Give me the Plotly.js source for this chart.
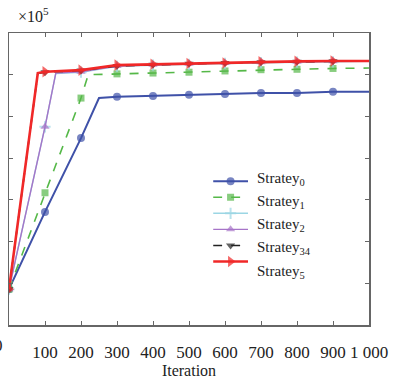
<!DOCTYPE html>
<html>
<head>
<meta charset="utf-8">
<script src="https://cdn.plot.ly/plotly-3.0.1.min.js"></script>
<style>html,body{margin:0;padding:0;background:#fff;}#chart{width:413px;height:382px;}</style>
</head>
<body>
<div id="chart"></div>
<script>
// Values in units of 10^5
const seriesNames = ["Stratey<sub>0</sub>", "Stratey<sub>1</sub>", "Stratey<sub>2</sub>", "Stratey<sub>2</sub>", "Stratey<sub>34</sub>", "Stratey<sub>5</sub>"];
const legendLabels = ["Stratey<sub>0</sub>", "Stratey<sub>1</sub>", "Stratey<sub>2</sub>", "Stratey<sub>34</sub>", "Stratey<sub>5</sub>"];

const s0_x = [0, 100, 200, 250, 300, 400, 500, 600, 700, 800, 900, 1000];
const s0_y = [0.86, 2.71, 4.48, 5.44, 5.47, 5.49, 5.52, 5.54, 5.56, 5.56, 5.59, 5.59];

const s1_x = [0, 100, 200, 220, 300, 400, 500, 600, 700, 800, 900, 1000];
const s1_y = [0.86, 3.17, 5.44, 6.00, 6.02, 6.04, 6.06, 6.09, 6.12, 6.13, 6.15, 6.16];

const s2c_x = [0, 100, 130, 200, 300, 400, 500, 600, 700, 800, 900, 1000];
const s2c_y = [0.86, 4.75, 6.03, 6.06, 6.20, 6.23, 6.25, 6.27, 6.29, 6.30, 6.31, 6.32];

const s2p_x = [0, 100, 130, 200, 300, 400, 500, 600, 700, 800, 900, 1000];
const s2p_y = [0.86, 4.75, 6.04, 6.07, 6.21, 6.24, 6.26, 6.28, 6.30, 6.31, 6.32, 6.33];

const s34_x = [0, 80, 100, 200, 300, 400, 500, 600, 700, 800, 900, 1000];
const s34_y = [0.86, 6.03, 6.06, 6.10, 6.21, 6.24, 6.26, 6.28, 6.30, 6.31, 6.32, 6.33];

const s5_x = [0, 80, 100, 200, 300, 400, 500, 600, 700, 800, 900, 1000];
const s5_y = [0.86, 6.04, 6.07, 6.11, 6.23, 6.25, 6.27, 6.28, 6.31, 6.32, 6.33, 6.33];

const xTickVals = [0, 100, 200, 300, 400, 500, 600, 700, 800, 900, 1000];
const xTickText = ["", "100", "200", "300", "400", "500", "600", "700", "800", "900", "1 000"];
const yTickVals = [0, 1, 2, 3, 4, 5, 6, 7];

const colors = ["#3f51a8", "#55b848", "#9bd6e4", "#a674c8", "#222222", "#f02828"];
const symbols = ["circle", "square", "cross-thin", "triangle-up", "triangle-down", "triangle-right"];
const dashes = ["solid", "dash", "solid", "solid", "dash", "solid"];
const widths = [2, 1.6, 1.4, 1.4, 1.6, 2.6];
const msizes = [8, 7, 8, 8, 8, 10];

const data = [[s0_x, s0_y], [s1_x, s1_y], [s2c_x, s2c_y], [s2p_x, s2p_y], [s34_x, s34_y], [s5_x, s5_y]];

const traces = [];
for (let i = 0; i < 6; i++) {
  const xs = data[i][0], ys = data[i][1];
  traces.push({
    x: xs, y: ys, type: "scatter", mode: "lines+markers", name: seriesNames[i],
    showlegend: false,
    line: {color: colors[i], width: widths[i], dash: dashes[i]},
    marker: {symbol: symbols[i], color: colors[i], size: xs.map(v => (v % 100 === 0 && v < 1000) ? msizes[i] : 0),
             line: {color: colors[i], width: symbols[i] === "cross-thin" ? 2 : 0}}
  });
}

// legend samples drawn on an overlay axis
for (let i = 0; i < 6; i++) {
  traces.push({
    x: [0, 0.5, 1], y: [i, i, i], xaxis: "x2", yaxis: "y2", type: "scatter", mode: "lines+markers",
    showlegend: false, hoverinfo: "skip",
    line: {color: colors[i], width: widths[i], dash: dashes[i]},
    marker: {symbol: symbols[i], color: colors[i], size: [0, msizes[i], 0],
             line: {color: colors[i], width: symbols[i] === "cross-thin" ? 2 : 0}}
  });
}

const serif = "Liberation Serif, Times New Roman, serif";
const labelY = [0.50, 0.422, 0.343, 0.262, 0.183];
const annotations = legendLabels.map((t, k) => ({
  text: t, xref: "paper", yref: "paper", x: 0.683, y: labelY[k], xanchor: "left", yanchor: "middle",
  showarrow: false, font: {family: serif, size: 15, color: "#222"}
}));
annotations.push({text: "×10<sup>5</sup>", xref: "paper", yref: "paper", x: 0.02, y: 1.06,
  xanchor: "left", yanchor: "middle", showarrow: false, font: {family: serif, size: 16, color: "#222"}});
annotations.push({text: "0", xref: "paper", yref: "paper", x: -0.028, y: -0.07,
  xanchor: "center", yanchor: "middle", showarrow: false, font: {family: serif, size: 17, color: "#222"}});

const layout = {
  width: 413, height: 382,
  margin: {l: 9, r: 44, t: 33, b: 57},
  paper_bgcolor: "#fff", plot_bgcolor: "#fff",
  showlegend: false,
  xaxis: {
    range: [0, 1000], tickvals: xTickVals, ticktext: xTickText,
    showgrid: false, zeroline: false, showline: true, linecolor: "#666", linewidth: 1.5,
    mirror: "ticks", ticks: "inside", ticklen: 4, tickcolor: "#666",
    ticklabelstandoff: 11,
    tickfont: {family: serif, size: 17, color: "#222"},
    title: {text: "Iteration", font: {family: serif, size: 16, color: "#222"}, standoff: 1}
  },
  yaxis: {
    range: [0, 7], tickvals: yTickVals, showticklabels: false,
    showgrid: false, zeroline: false, showline: true, linecolor: "#666", linewidth: 1.5,
    mirror: "ticks", ticks: "inside", ticklen: 4, tickcolor: "#666"
  },
  xaxis2: {domain: [0.567, 0.664], range: [0, 1], visible: false, anchor: "y2", fixedrange: true},
  yaxis2: {domain: [0.19, 0.52], range: [5.5, -0.5], visible: false, anchor: "x2", fixedrange: true},
  annotations: annotations
};

Plotly.newPlot("chart", traces, layout, {displayModeBar: false, staticPlot: true});
</script>
</body>
</html>
